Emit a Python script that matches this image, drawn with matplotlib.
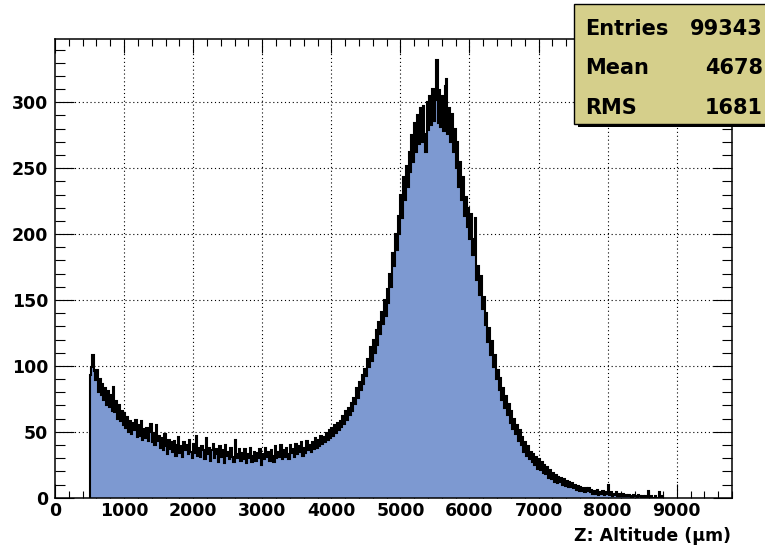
import numpy as np
import matplotlib.pyplot as plt
from matplotlib.ticker import MultipleLocator
from matplotlib.patches import Rectangle

plt.rcParams['font.weight'] = 'bold'

# histogram: 20 um bins starting at 500 um
z_start = 500
bin_width = 20
counts = [
    93, 99, 108, 96, 89, 97, 80, 90, 78, 86,        # 500
    74, 83, 70, 81, 69, 78, 66, 84, 65, 73,         # 700
    60, 70, 58, 66, 55, 64, 53, 61, 50, 58,         # 900
    48, 57, 51, 59, 46, 55, 47, 58, 44, 52,         # 1100
    45, 53, 43, 50, 56, 42, 49, 40, 55, 43,         # 1300
    47, 38, 45, 36, 48, 39, 33, 44, 37, 42,         # 1500
    35, 43, 32, 40, 46, 34, 39, 31, 42, 36,         # 1700
    40, 33, 44, 35, 30, 41, 34, 47, 32, 38,         # 1900
    31, 39, 36, 29, 45, 33, 38, 28, 36, 41,         # 2100
    30, 37, 33, 27, 39, 31, 36, 26, 40, 32,         # 2300
    35, 29, 38, 31, 27, 44, 33, 30, 37, 28,         # 2500
    34, 29, 37, 26, 33, 30, 38, 27, 32, 35,         # 2700
    28, 34, 30, 37, 25, 33, 29, 38, 31, 35,         # 2900
    28, 36, 32, 27, 39, 30, 35, 31, 40, 29,         # 3100
    36, 31, 38, 33, 29, 40, 34, 37, 31, 41,         # 3300
    33, 39, 35, 42, 32, 38, 34, 43, 36, 40,         # 3500
    35, 42, 37, 45, 38, 44, 39, 47, 41, 46,         # 3700
    42, 49, 44, 51, 45, 53, 47, 55, 49, 57,         # 3900
    51, 58, 54, 62, 56, 66, 59, 68, 63, 72,         # 4100
    66, 76, 71, 83, 76, 88, 82, 93, 86, 98,         # 4300
    92, 105, 99, 114, 104, 120, 110, 127, 116, 133,  # 4500
    124, 141, 132, 150, 138, 158, 148, 170, 160, 186,  # 4700
    176, 200, 188, 214, 200, 230, 212, 243, 226, 252,  # 4900
    236, 262, 247, 275, 255, 284, 262, 290, 268, 296,  # 5100
    270, 297, 276, 262, 300, 279, 305, 283, 310, 286,  # 5300
    302, 332, 284, 309, 281, 305, 278, 312, 318, 276,  # 5500
    296, 270, 291, 262, 280, 250, 270, 236, 255, 226,  # 5700
    243, 214, 228, 205, 220, 196, 215, 184, 196, 212,  # 5900
    165, 176, 154, 168, 143, 152, 131, 140, 118, 129,  # 6100
    108, 119, 99, 108, 90, 97, 82, 91, 74, 83,      # 6300
    68, 77, 63, 71, 57, 66, 52, 60, 48, 55,         # 6500
    43, 51, 40, 46, 35, 42, 32, 39, 29, 35,         # 6700
    27, 33, 25, 31, 22, 29, 21, 27, 19, 25,         # 6900
    18, 23, 15, 21, 14, 19, 12, 17, 11, 16,         # 7100
    12, 15, 10, 14, 9, 13, 8, 12, 8, 11,            # 7300
    7, 10, 6, 9, 5, 8, 5, 7, 4, 7,                  # 7500
    5, 7, 4, 6, 3, 5, 3, 6, 2, 4,                   # 7700
    3, 5, 2, 4, 3, 10, 2, 4, 1, 3,                  # 7900
    2, 4, 1, 3, 2, 1, 3, 1, 2, 1,                   # 8100
    2, 1, 0, 2, 1, 1, 0, 2, 1, 0,                   # 8300
    1, 0, 1, 0, 5, 0, 1, 0, 0, 1,                   # 8500
    0, 0, 4, 0, 1,                                  # 8700
]
edges = z_start + bin_width * np.arange(len(counts) + 1)

stats_labels = ["Entries", "Mean", "RMS"]
stats_values = ["99343", "4678", "1681"]

W, H = 765, 548
fig = plt.figure(figsize=(W / 100, H / 100), dpi=100)
ax = fig.add_axes([55 / W, 50.3 / H, 677 / W, 458.7 / H])

ax.set_xlim(0, 9800)
ax.set_ylim(0, 348)

# dotted grid under the filled histogram
for xv in np.arange(1000, 9800, 1000):
    ax.axvline(xv, color='black', lw=0.8, ls=(0, (1, 2.5)), zorder=1)
for yv in np.arange(50, 348, 50):
    ax.axhline(yv, color='black', lw=0.8, ls=(0, (1, 2.5)), zorder=1)

ax.stairs(counts, edges, fill=True, color='#7d99d1', lw=0, zorder=2)
ax.stairs(counts, edges, color='black', lw=1.5, zorder=3)

ax.xaxis.set_major_locator(MultipleLocator(1000))
ax.xaxis.set_minor_locator(MultipleLocator(200))
ax.yaxis.set_major_locator(MultipleLocator(50))
ax.yaxis.set_minor_locator(MultipleLocator(10))
ax.tick_params(which='both', direction='in', top=True, right=True, width=0.8,
               labelsize=12.5)
ax.tick_params(axis='x', which='major', length=10, pad=3)
ax.tick_params(axis='x', which='minor', length=5)
ax.tick_params(axis='y', which='major', length=14, pad=5)
ax.tick_params(axis='y', which='minor', length=7)
for s in ax.spines.values():
    s.set_linewidth(1.1)

fig.text(731 / W, 1 - 536 / H, 'Z: Altitude (μm)', ha='right', va='center',
         fontsize=12.5, fontweight='bold')

# stats box in the top right corner
shadow = Rectangle((578 / W, 1 - 127 / H), 200 / W, 121 / H,
                   transform=fig.transFigure, facecolor='black', lw=0, zorder=5)
box = Rectangle((574 / W, 1 - 124 / H), 200 / W, 120 / H,
                transform=fig.transFigure, facecolor='#d5cf8b',
                edgecolor='black', lw=1.0, zorder=6)
fig.add_artist(shadow)
fig.add_artist(box)
for i, (lab, val) in enumerate(zip(stats_labels, stats_values)):
    y = 1 - (29 + 39.5 * i) / H
    fig.text(585 / W, y, lab, ha='left', va='center', fontsize=15,
             fontweight='bold', zorder=7)
    fig.text(763 / W, y, val, ha='right', va='center', fontsize=15,
             fontweight='bold', zorder=7)

plt.savefig('out.png', dpi=100)
